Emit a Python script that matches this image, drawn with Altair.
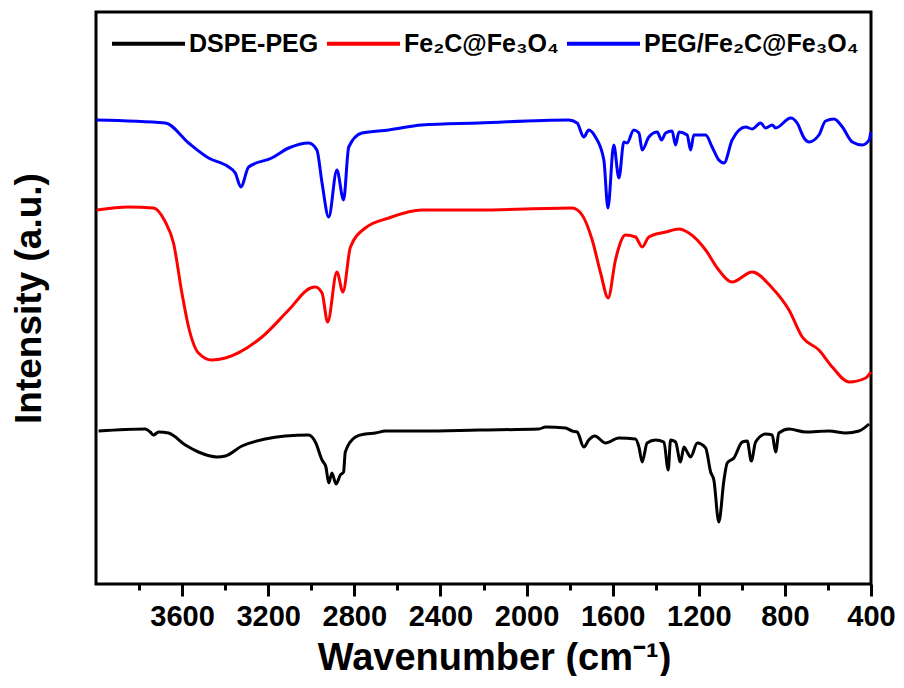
import altair as alt
import pandas as pd

# --- data (wavenumber in cm^-1, intensity in arbitrary units) ---
series_names = ["DSPE-PEG", "Fe₂C@Fe₃O₄", "PEG/Fe₂C@Fe₃O₄"]
series_colors = ["#000000", "#ff0000", "#0000ff"]

dspe_wn = [3988, 3771, 3748, 3733, 3709, 3663, 3585, 3524, 3438, 3399, 3322, 3214, 3121, 3012,
           2981, 2950, 2932, 2919, 2904, 2885, 2865, 2850, 2842, 2795, 2749, 2702, 2656, 2486,
           2222, 1943, 1912, 1819, 1788, 1765, 1734, 1711, 1683, 1633, 1571, 1494, 1478, 1463,
           1440, 1401, 1362, 1342, 1331, 1308, 1285, 1269, 1254, 1238, 1207, 1168, 1145, 1130,
           1107, 1083, 1068, 1037, 998, 975, 956, 936, 889, 859, 843, 828, 781, 704, 595, 518,
           456, 409]
dspe_int = [153, 155, 152, 149, 152, 151, 139, 132, 127, 128, 138, 145, 148, 149,
            142, 124, 117, 101, 111, 100, 109, 112, 132, 147, 150, 151, 153, 153,
            154, 155, 157, 156, 153, 152, 137, 144, 148, 141, 146, 145, 137, 122,
            141, 144, 142, 114, 144, 142, 122, 137, 132, 127, 141, 136, 112, 104,
            62, 104, 121, 126, 142, 143, 123, 142, 150, 149, 132, 151, 155, 152, 153, 151,
            153, 160]

fe_wn = [3996, 3849, 3733, 3678, 3640, 3601, 3570, 3524, 3462, 3399, 3229, 3105, 3004, 2981,
         2950, 2924, 2881, 2853, 2818, 2749, 2640, 2486, 2222, 1788, 1742, 1695, 1656, 1621,
         1587, 1540, 1494, 1463, 1432, 1354, 1292, 1246, 1168, 1114, 1045, 952, 859, 781, 719,
         642, 580, 502, 425, 401]
fe_int = [374, 377, 376, 362, 341, 291, 257, 231, 224, 226, 247, 274, 296, 297,
          291, 262, 312, 292, 337, 356, 366, 374, 374, 376, 369, 344, 311, 286,
          324, 349, 347, 337, 347, 352, 355, 351, 334, 316, 302, 312, 296, 274, 247,
          234, 217, 202, 206, 212]

peg_wn = [3996, 3678, 3570, 3477, 3384, 3353, 3327, 3291, 3184, 3105, 3012, 2974, 2950, 2919,
          2881, 2850, 2826, 2765, 2640, 2487, 2222, 1804, 1765, 1734, 1711, 1680, 1641, 1622,
          1595, 1571, 1548, 1533, 1502, 1478, 1463, 1432, 1393, 1373, 1354, 1324, 1308, 1292,
          1254, 1238, 1223, 1168, 1138, 1107, 1083, 1045, 982, 952, 913, 889, 859, 843, 773,
          743, 711, 688, 642, 611, 572, 533, 487, 440, 409, 401]
peg_int = [464, 461, 441, 426, 417, 411, 397, 417, 426, 436, 441, 434, 401, 367,
           414, 384, 437, 451, 454, 459, 461, 464, 461, 447, 454, 447, 424, 376,
           439, 406, 442, 441, 454, 451, 434, 447, 452, 444, 451, 453, 439, 452,
           449, 434, 449, 449, 437, 424, 421, 444, 457, 455, 461, 456, 459, 456, 466,
           461, 446, 442, 449, 463, 465, 457, 442, 439, 444, 452]

x_ticks = list(range(3800, 399, -200))

frames = []
for name, wn, val in [(series_names[0], dspe_wn, dspe_int),
                      (series_names[1], fe_wn, fe_int),
                      (series_names[2], peg_wn, peg_int)]:
    frames.append(pd.DataFrame({"series": name, "wn": wn, "intensity": val}))
df = pd.concat(frames, ignore_index=True)

FONT = "Liberation Sans"

chart = alt.Chart(df).mark_line(strokeWidth=3, interpolate="monotone").encode(
    x=alt.X(
        "wn:Q",
        scale=alt.Scale(domain=[4000, 400], nice=False, zero=False),
        axis=alt.Axis(
            title="Wavenumber (cm⁻¹)",
            values=x_ticks,
            format="d",
            labelExpr="datum.value % 400 === 0 ? datum.label : ''",
            tickSize={"condition": {"test": "datum.value % 400 === 0", "value": 12}, "value": 6},
            tickWidth=3,
            tickColor="#000000",
            domain=False,
            grid=False,
            labelFont=FONT,
            labelFontWeight="bold",
            labelFontSize=29,
            labelColor="#000000",
            labelPadding=6,
            labelOverlap=False,
            labelFlush=False,
            titleFont=FONT,
            titleFontWeight="bold",
            titleFontSize=38,
            titleColor="#000000",
            titlePadding=8,
            titleX=398,
            titleAlign="center",
        ),
    ),
    y=alt.Y(
        "intensity:Q",
        scale=alt.Scale(domain=[0, 572], nice=False, zero=False),
        axis=alt.Axis(
            title="Intensity (a.u.)",
            domain=False,
            ticks=False,
            labels=False,
            grid=False,
            minExtent=0,
            titleFont=FONT,
            titleFontWeight="bold",
            titleFontSize=37,
            titleColor="#000000",
            titlePadding=48,
        ),
    ),
    color=alt.Color(
        "series:N",
        scale=alt.Scale(domain=series_names, range=series_colors),
        legend=alt.Legend(
            title=None,
            orient="none",
            legendX=14,
            legendY=-7,
            direction="horizontal",
            symbolType="stroke",
            symbolSize=5329,
            symbolStrokeWidth=4,
            labelFont=FONT,
            labelFontWeight="bold",
            labelFontSize=25,
            labelColor="#000000",
            labelOffset=2,
            columnPadding=0,
            labelLimit=400,
        ),
    ),
    order=alt.Order("wn:Q"),
).properties(
    width=775,
    height=572,
    autosize=alt.AutoSizeParams(type="none"),
    padding={"left": 88, "top": 4, "right": 25, "bottom": 92},
    background="white",
).configure_view(
    stroke="#000000",
    strokeWidth=3,
)

chart.save("out.html", embed_options={"renderer": "svg", "actions": False})
